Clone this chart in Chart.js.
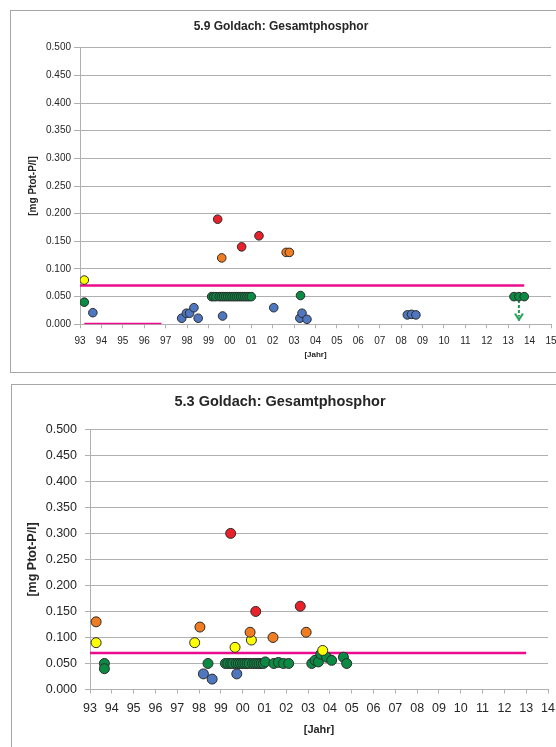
<!DOCTYPE html>
<html>
<head>
<meta charset="utf-8">
<script src="https://cdn.jsdelivr.net/npm/chart.js@4.4.1/dist/chart.umd.min.js"></script>
<style>
html, body { margin: 0; padding: 0; background: #fff; overflow: hidden; width: 556px; height: 747px; }
.box { position: absolute; border: 1px solid #a6a6a6; background: #fff; }
#box1 { left: 10px; top: 10px; width: 560px; height: 361px; }
#box2 { left: 11px; top: 384px; width: 560px; height: 372px; }
canvas { display: block; }
</style>
</head>
<body>
<div class="box" id="box1"><canvas id="c1" width="560" height="361" style="width:560px;height:361px"></canvas></div>
<div class="box" id="box2"><canvas id="c2" width="560" height="372" style="width:560px;height:372px"></canvas></div>
<script>
// ---- 5.9 Goldach (oben) ----
const red1X = [1999.43, 2000.55, 2001.36];
const red1Y = [0.190, 0.140, 0.160];
const orange1X = [1999.62, 2002.63, 2002.78];
const orange1Y = [0.120, 0.130, 0.130];
const yellow1X = [1993.2];
const yellow1Y = [0.080];
const green1X = [1993.2, 1999.15, 1999.25, 1999.35, 1999.5, 1999.6, 1999.7, 1999.8, 1999.9, 2000.0, 2000.1, 2000.2, 2000.3, 2000.4, 2000.5, 2000.6, 2000.7, 2000.8, 2000.9, 2001.0, 2003.3, 2013.27, 2013.5, 2013.75];
const green1Y = [0.040, 0.050, 0.050, 0.050, 0.050, 0.050, 0.050, 0.050, 0.050, 0.050, 0.050, 0.050, 0.050, 0.050, 0.050, 0.050, 0.050, 0.050, 0.050, 0.050, 0.052, 0.050, 0.050, 0.050];
const blue1X = [1993.6, 1997.75, 1997.97, 1998.12, 1998.32, 1998.52, 1999.66, 2002.05, 2003.27, 2003.37, 2003.6, 2008.29, 2008.49, 2008.69];
const blue1Y = [0.021, 0.011, 0.020, 0.020, 0.030, 0.011, 0.015, 0.030, 0.011, 0.020, 0.009, 0.017, 0.018, 0.017];
const limit1X = [1993, 2013.75];
const limit1Y = [0.070, 0.070];
const zero1X = [1993.2, 1996.8];
const zero1Y = [0.001, 0.001];
const arrow1X = [2013.5, 2013.5];
const arrow1Y = [0.044, 0.014];

// ---- 5.3 Goldach (unten) ----
const red2X = [1999.45, 2000.6, 2002.64];
const red2Y = [0.300, 0.150, 0.160];
const orange2X = [1993.28, 1998.04, 2000.34, 2001.39, 2002.91];
const orange2Y = [0.130, 0.120, 0.110, 0.100, 0.110];
const yellow2X = [1993.28, 1997.8, 1999.65, 2000.4, 2003.67];
const yellow2Y = [0.090, 0.090, 0.081, 0.095, 0.075];
const green2X = [1993.66, 1993.66, 1998.41, 1999.21, 1999.32, 1999.45, 1999.55, 1999.7, 1999.8, 1999.9, 2000.0, 2000.1, 2000.2, 2000.3, 2000.45, 2000.55, 2000.65, 2000.75, 2000.85, 2000.95, 2001.04, 2001.43, 2001.64, 2001.87, 2002.11, 2003.17, 2003.32, 2003.47, 2003.58, 2003.85, 2004.08, 2004.62, 2004.77];
const green2Y = [0.050, 0.040, 0.050, 0.050, 0.050, 0.050, 0.050, 0.050, 0.050, 0.050, 0.050, 0.050, 0.050, 0.050, 0.050, 0.050, 0.050, 0.050, 0.050, 0.050, 0.053, 0.050, 0.052, 0.050, 0.050, 0.050, 0.056, 0.053, 0.068, 0.062, 0.056, 0.062, 0.050];
const blue2X = [1998.2, 1998.6, 1999.73];
const blue2Y = [0.030, 0.020, 0.030];
const limit2X = [1993, 2013];
const limit2Y = [0.070, 0.070];

const yTicks = [0, 0.05, 0.1, 0.15, 0.2, 0.25, 0.3, 0.35, 0.4, 0.45, 0.5];

const C_RED = '#e8212b', C_ORANGE = '#f07d22', C_YELLOW = '#ffff00', C_GREEN = '#0b8a44', C_BLUE = '#4f77bf';
const PINK = '#ec0b8c';
const ARROW = '#1a9a50';
const GRID = '#b0b0b0';
const FONT = "'Liberation Sans', Arial, sans-serif";

function pts(xs, ys) {
    return xs.map((x, i) => ({ x: x, y: ys[i] }));
}

function dots(xs, ys, color, r, order) {
    return {
        data: pts(xs, ys),
        backgroundColor: color,
        borderColor: '#2b2b2b',
        borderWidth: 1,
        pointRadius: r,
        order: order
    };
}

function line(xs, ys, color, w) {
    return {
        data: pts(xs, ys),
        showLine: true,
        borderColor: color,
        borderWidth: w,
        pointRadius: 0,
        order: 20
    };
}

// kleine "v"-Pfeilspitze als Punktsymbol
function chevron() {
    const c = document.createElement('canvas');
    c.width = 10; c.height = 8;
    const g = c.getContext('2d');
    g.strokeStyle = ARROW;
    g.lineWidth = 2;
    g.beginPath();
    g.moveTo(1, 1); g.lineTo(5, 7); g.lineTo(9, 1);
    g.stroke();
    return c;
}

function makeChart(id, o) {
    return new Chart(document.getElementById(id).getContext('2d'), {
        type: 'scatter',
        data: { datasets: o.datasets },
        options: {
            responsive: false,
            animation: false,
            layout: { padding: { left: 0, right: o.padRight, top: 0, bottom: 0 } },
            scales: {
                x: {
                    type: 'linear',
                    min: 1993,
                    max: o.xMax,
                    afterFit: s => { s.height = o.xHeight; },
                    afterBuildTicks: s => {
                        s.ticks = [];
                        for (let v = 1993; v <= o.xMax; v++) s.ticks.push({ value: v });
                    },
                    ticks: {
                        autoSkip: false,
                        maxRotation: 0,
                        padding: o.xPad,
                        color: '#262626',
                        font: { family: FONT, size: o.tickSize },
                        callback: v => String(Math.round(v) % 100).padStart(2, '0')
                    },
                    grid: { drawOnChartArea: false, drawTicks: true, tickLength: 4, color: GRID },
                    border: { color: GRID },
                    title: {
                        display: true,
                        text: '[Jahr]',
                        color: '#262626',
                        font: { family: FONT, size: o.xTitleSize, weight: 'bold' },
                        padding: { top: 0, bottom: o.xTitlePad }
                    }
                },
                y: {
                    type: 'linear',
                    min: 0,
                    max: 0.5,
                    afterFit: s => { s.width = o.yWidth; },
                    afterBuildTicks: s => { s.ticks = yTicks.map(v => ({ value: v })); },
                    ticks: {
                        padding: o.yPad,
                        color: '#262626',
                        font: { family: FONT, size: o.tickSize },
                        callback: v => v.toFixed(3)
                    },
                    grid: { color: GRID, tickLength: o.yTick, lineWidth: 1 },
                    border: { color: GRID },
                    title: {
                        display: true,
                        text: '[mg Ptot-P/l]',
                        color: '#262626',
                        font: { family: FONT, size: o.yTitleSize, weight: 'bold' },
                        padding: { top: o.yTitlePad, bottom: 0 }
                    }
                }
            },
            plugins: {
                legend: { display: false },
                tooltip: { enabled: false },
                title: {
                    display: true,
                    text: o.title,
                    color: '#262626',
                    font: { family: FONT, size: o.titleSize, weight: 'bold' },
                    padding: { top: o.titleTop, bottom: o.titleBottom }
                }
            }
        }
    });
}

const arrow1 = line(arrow1X, arrow1Y, ARROW, 2);
arrow1.borderDash = [3, 2];
arrow1.pointRadius = [0, 5];
arrow1.pointStyle = [false, chevron()];
arrow1.order = 15;

makeChart('c1', {
    title: '5.9 Goldach: Gesamtphosphor',
    titleSize: 12, titleTop: 8.5, titleBottom: 13.8,
    tickSize: 10, xPad: 7, yPad: 3, yTick: 6,
    xMax: 2015, padRight: 20, xHeight: 47.7, yWidth: 69,
    xTitleSize: 8, xTitlePad: 12.2,
    yTitleSize: 10, yTitlePad: 16,
    datasets: [
        dots(red1X, red1Y, C_RED, 4.3, 1),
        dots(orange1X, orange1Y, C_ORANGE, 4.3, 2),
        dots(yellow1X, yellow1Y, C_YELLOW, 4.3, 3),
        dots(green1X, green1Y, C_GREEN, 4.3, 4),
        dots(blue1X, blue1Y, C_BLUE, 4.3, 5),
        arrow1,
        line(limit1X, limit1Y, PINK, 2.5),
        line(zero1X, zero1Y, PINK, 2)
    ]
});

makeChart('c2', {
    title: '5.3 Goldach: Gesamtphosphor',
    titleSize: 14.5, titleTop: 8.3, titleBottom: 18.6,
    tickSize: 12.5, xPad: 8, yPad: 8, yTick: 5,
    xMax: 2014, padRight: 24, xHeight: 67.5, yWidth: 78,
    xTitleSize: 11, xTitlePad: 20.4,
    yTitleSize: 12.5, yTitlePad: 13.5,
    datasets: [
        dots(red2X, red2Y, C_RED, 5, 1),
        dots(orange2X, orange2Y, C_ORANGE, 5, 2),
        dots(yellow2X, yellow2Y, C_YELLOW, 5, 3),
        dots(green2X, green2Y, C_GREEN, 5, 4),
        dots(blue2X, blue2Y, C_BLUE, 5, 5),
        line(limit2X, limit2Y, PINK, 2.5)
    ]
});
</script>
</body>
</html>
